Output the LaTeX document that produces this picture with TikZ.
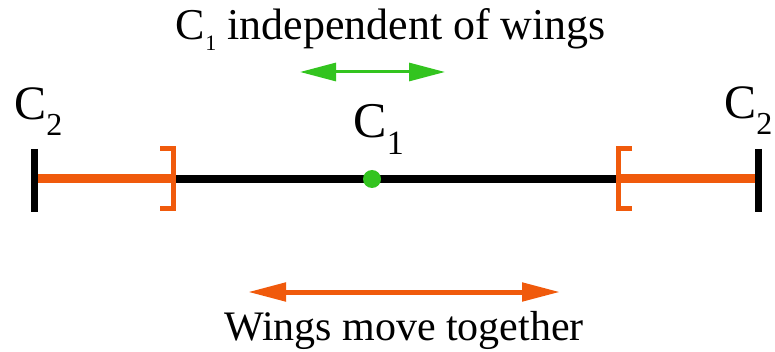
\documentclass[tikz,border=0pt]{standalone}
\usepackage{fontspec}
\setmainfont{Liberation Serif}
\usetikzlibrary{arrows.meta, positioning}
\definecolor{WingOrange}{HTML}{F05A0C}
\definecolor{CoreGreen}{HTML}{33C41F}
\newcommand{\clabel}[2]{C\hbox{\fontsize{#2}{#2}\selectfont\lower0.5em\hbox{#1}}}

\begin{document}
\begin{tikzpicture}[
  x=0.5pt, y=-0.5pt,
  lbl/.style={inner sep=0pt, anchor=base west, font=\fontsize{24}{26}\selectfont},
  caption/.style={inner sep=0pt, anchor=base, font=\fontsize{21}{23}\selectfont},
  endtick/.style={line width=3.5pt, draw=black},
  bar/.style={line width=4pt, draw=black},
  wing/.style={line width=4.5pt, draw=WingOrange},
  brk/.style={line width=2.5pt, draw=WingOrange},
  garr/.style={{Triangle[length=18pt, width=9pt]}-{Triangle[length=18pt, width=9pt]}, line width=1.5pt, CoreGreen},
  oarr/.style={{Triangle[length=19pt, width=9pt]}-{Triangle[length=19pt, width=9pt]}, line width=2.5pt, WingOrange}
]
\useasboundingbox (0,0) rectangle (775,352);

% ends, brackets and centre
\coordinate (leftend)  at (34,179);
\coordinate (rightend) at (758,179);
\coordinate (leftbrk)  at (173,179);
\coordinate (rightbrk) at (618,179);

\draw[bar]  (leftbrk) -- (rightbrk);
\draw[wing] (leftend) -- (leftbrk);
\draw[wing] (rightbrk) -- (rightend);
\node[circle, fill=CoreGreen, inner sep=0pt, minimum size=9pt] (core) at (372,179) {};

\draw[endtick] (leftend) ++(0,-30) -- ++(0,63);
\draw[endtick] (rightend) ++(0,-30) -- ++(0,63);
\draw[brk] (leftbrk) ++(-13,-30) -- ++(13,0) -- ++(0,60) -- ++(-13,0);
\draw[brk] (rightbrk) ++(14,-30) -- ++(-14,0) -- ++(0,60) -- ++(14,0);

% labels
\node[lbl] (c2left)  at (14,120)  {\clabel{2}{16}};
\node[lbl] (c2right) at (724,119) {\clabel{2}{16}};
\node[lbl, font=\fontsize{25}{27}\selectfont] (c1) at (353,138) {\clabel{1}{17}};

% motion arrows
\coordinate (gl) at (300,72);
\coordinate (gr) at (445,72);
\draw[garr] (gl) -- (gr);
\node[caption, font=\fontsize{22}{24}\selectfont] (indep) at (391,40) {\clabel{1}{11} independent of wings};

\coordinate (ol) at (248,292);
\coordinate (or) at (560,292);
\draw[oarr] (ol) -- (or);
\node[caption] (together) at (404,340) {Wings move together};

\end{tikzpicture}
\end{document}
